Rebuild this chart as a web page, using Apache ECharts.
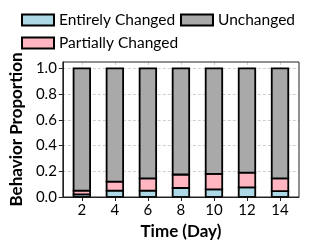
<!DOCTYPE html>
<html><head><meta charset="utf-8">
<script src="https://cdn.jsdelivr.net/npm/echarts@6/dist/echarts.min.js"></script>
<style>html,body{margin:0;padding:0;background:#fff}#c{width:309px;height:247px}</style>
</head><body><div id="c"></div>
<script>
var days = [2, 4, 6, 8, 10, 12, 14];
var entirelyChanged = [0.02, 0.05, 0.05, 0.07, 0.06, 0.075, 0.045];
var partiallyChanged = [0.03, 0.07, 0.095, 0.105, 0.12, 0.115, 0.10];
var unchanged = days.map(function(d, i){ return +(1 - entirelyChanged[i] - partiallyChanged[i]).toFixed(3); });
var yTicks = [0, 0.2, 0.4, 0.6, 0.8, 1.0];
var BAR_W = 1; // bar width in data units (days)

var FONT = 'Lato';
var stackBase = days.map(function(){ return 0; });
function ser(name, vals, color){
  var data = days.map(function(d, i){
    var lo = stackBase[i], hi = lo + vals[i];
    stackBase[i] = hi;
    return [d, lo, hi];
  });
  return {name: name, type: 'custom', data: data, encode: {x: 0, y: [1, 2]},
    itemStyle: {color: color, borderColor: '#000', borderWidth: 1.8},
    renderItem: function(params, api){
      var x = api.value(0), lo = api.value(1), hi = api.value(2);
      var p0 = api.coord([x - BAR_W / 2, lo]), p1 = api.coord([x + BAR_W / 2, hi]);
      return {type: 'rect', shape: {x: p0[0], y: p1[1], width: p1[0] - p0[0], height: p0[1] - p1[1]},
        style: api.style()};
    }};
}
function leg(name, left, top){
  return {data: [name], left: left, top: top, padding: 0, itemWidth: 32, itemHeight: 11,
    itemGap: 0, selectedMode: false, icon: 'rect',
    textStyle: {fontFamily: FONT, fontSize: 15.5, color: '#000'}};
}
var chart = echarts.init(document.getElementById('c'), null, {renderer: 'canvas'});
chart.setOption({
  animation: false,
  legend: [leg('Entirely Changed', 21, 12), leg('Unchanged', 180, 12), leg('Partially Changed', 21, 35)],
  grid: {left: 57, right: 10, top: 62, bottom: 50, show: true, borderColor: '#222', borderWidth: 1, z: 3},
  xAxis: {type: 'value', min: 0.85, max: 15.15, splitNumber: 7,
    name: 'Time (Day)', nameLocation: 'middle', nameGap: 23,
    nameTextStyle: {fontFamily: FONT, fontSize: 17, fontWeight: 'bold', color: '#000'},
    axisLine: {show: true, onZero: false, lineStyle: {color: '#222'}},
    axisTick: {show: true, length: 4, lineStyle: {color: '#222'}},
    axisLabel: {showMinLabel: false, showMaxLabel: false, fontFamily: FONT, fontSize: 15, color: '#000', margin: 6},
    splitLine: {show: true, showMinLine: false, showMaxLine: false, lineStyle: {color: '#d0d0d0', type: [3, 2]}}},
  yAxis: {type: 'value', min: 0, max: 1.05, interval: 0.2,
    name: 'Behavior Proportion', nameLocation: 'middle', nameGap: 35,
    nameTextStyle: {fontFamily: FONT, fontSize: 17, fontWeight: 'bold', color: '#000'},
    axisLine: {show: true, lineStyle: {color: '#222'}},
    axisTick: {show: true, length: 4, lineStyle: {color: '#222'}},
    axisLabel: {showMaxLabel: false, fontFamily: FONT, fontSize: 15, color: '#000', margin: 6,
      formatter: function(v){ return yTicks.indexOf(+v.toFixed(2)) >= 0 ? v.toFixed(1) : ''; }},
    splitLine: {show: true, showMinLine: false, showMaxLine: false, lineStyle: {color: '#d0d0d0', type: [3, 2]}}},
  series: [
    ser('Entirely Changed', entirelyChanged, '#ADD8E6'),
    ser('Partially Changed', partiallyChanged, '#FFB6C1'),
    ser('Unchanged', unchanged, '#A9A9A9')
  ]
});
</script></body></html>
